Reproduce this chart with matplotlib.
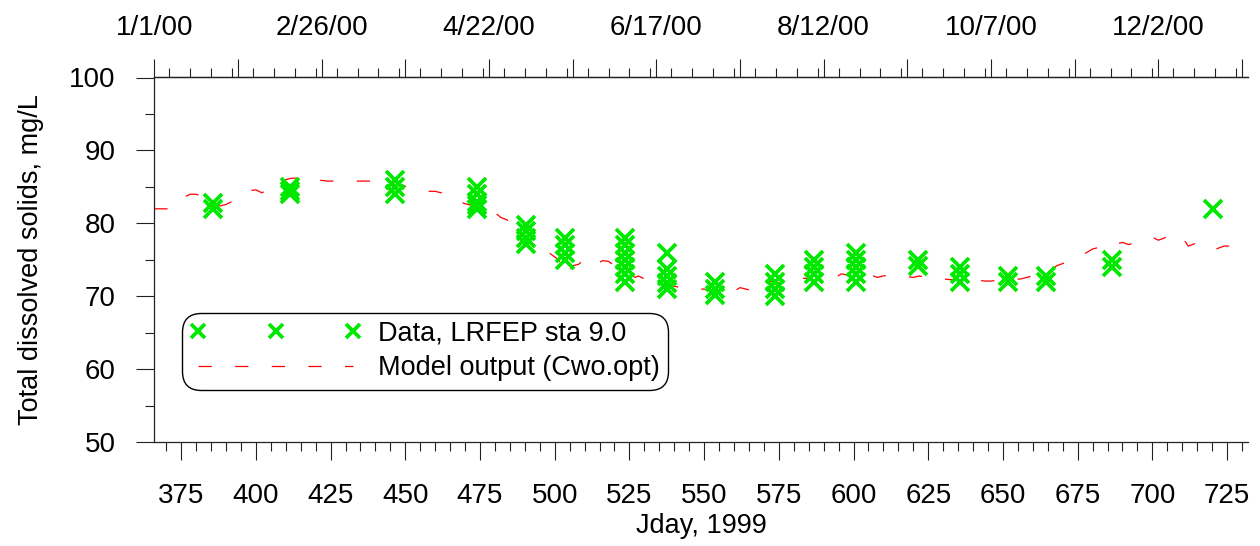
import matplotlib
matplotlib.use("Agg")
import matplotlib.pyplot as plt
from matplotlib.ticker import MultipleLocator, FixedLocator, FixedFormatter

plt.rcParams['font.family'] = ['Liberation Sans', 'DejaVu Sans']

# ---- data ----
obs_day = [385.5, 385.5,
           411.4, 411.4, 411.4,
           446.5, 446.5, 446.5,
           474.0, 474.0, 474.0, 474.0, 474.0,
           490.5, 490.5, 490.5, 490.5,
           503.5, 503.5, 503.5, 503.5,
           523.5, 523.5, 523.5, 523.5, 523.5, 523.5, 523.5,
           537.6, 537.6, 537.6, 537.6, 537.6,
           553.6, 553.6, 553.6,
           573.6, 573.6, 573.6, 573.6,
           586.7, 586.7, 586.7, 586.7,
           600.7, 600.7, 600.7, 600.7, 600.7,
           621.6, 621.6,
           635.7, 635.7, 635.7,
           651.6, 651.6,
           664.5, 664.5,
           686.5, 686.5,
           720.4]
obs_tds = [82.0, 82.8,
           84.0, 84.5, 85.0,
           84.0, 85.0, 86.0,
           85.0, 84.0, 83.0, 82.5, 82.0,
           79.8, 79.0, 78.0, 77.2,
           78.0, 77.0, 76.0, 75.0,
           78.0, 77.0, 76.0, 75.0, 74.0, 73.0, 72.0,
           76.0, 73.8, 72.8, 71.8, 71.0,
           72.0, 71.0, 70.2,
           73.0, 72.0, 71.0, 70.0,
           75.0, 74.0, 73.0, 72.0,
           76.0, 75.0, 74.0, 73.0, 72.0,
           75.0, 74.2,
           74.0, 73.0, 72.0,
           72.8, 72.0,
           72.8, 72.0,
           75.0, 74.0,
           82.0]

model_day = [366, 368, 370, 372, 374, 376, 378, 380, 382, 384, 386, 388, 390, 392,
             394, 396, 398, 400, 402, 404, 406, 408, 410, 412, 414, 416, 418, 420,
             422, 424, 426, 428, 430, 432, 434, 436, 438, 440, 442, 444, 446, 448,
             450, 452, 454, 456, 458, 460, 462, 464, 466, 468, 470, 472, 474, 476,
             478, 480, 482, 484, 486, 487, 488, 490, 492, 494, 496, 498, 500, 501,
             502, 503, 504, 505, 506, 508, 510, 512, 514, 516, 518, 520, 522, 524,
             526, 527, 528, 530, 532, 534, 536, 538, 540, 542, 544, 546, 548, 550,
             552, 554, 556, 558, 560, 562, 564, 566, 568, 570, 572, 574, 576, 578,
             580, 582, 584, 586, 588, 590, 592, 594, 596, 598, 600, 602, 604, 606,
             608, 610, 612, 614, 616, 618, 620, 622, 624, 626, 628, 630, 632, 634,
             636, 638, 640, 642, 644, 646, 648, 650, 652, 654, 656, 658, 660, 662,
             664, 666, 668, 670, 672, 674, 676, 678, 680, 682, 684, 686, 688, 690,
             692, 694, 696, 698, 700, 702, 704, 706, 708, 710, 711, 712, 714, 716,
             718, 720, 722, 724, 726, 728, 730]
model_tds = [82.0, 82.0, 82.0, 82.0, 82.6, 83.6, 84.0, 84.0, 83.7, 83.2, 82.6, 82.4, 82.6, 83.0,
             83.3, 84.0, 84.5, 84.6, 84.2, 84.6, 85.1, 85.6, 86.0, 86.2, 86.2, 86.0, 85.9, 85.9,
             85.9, 85.8, 85.8, 85.8, 85.8, 85.8, 85.8, 85.8, 85.8, 85.8, 85.6, 85.5, 85.4, 85.2,
             85.1, 85.0, 84.9, 84.8, 84.4, 84.4, 84.2, 84.1, 83.6, 83.0, 82.7, 82.5, 82.5, 82.2,
             81.8, 81.5, 80.8, 80.5, 79.6, 78.3, 78.8, 78.0, 77.4, 76.8, 76.5, 76.0, 75.4, 75.1,
             74.5, 73.7, 72.8, 73.5, 74.2, 74.4, 75.1, 74.3, 74.4, 74.9, 74.8, 74.2, 73.5, 73.0,
             72.8, 72.6, 72.8, 72.4, 72.6, 72.1, 71.8, 71.6, 71.4, 71.2, 71.0, 71.1, 71.0, 71.0,
             70.8, 70.6, 70.5, 70.4, 70.7, 71.2, 71.0, 70.8, 71.3, 71.8, 72.1, 71.9, 71.8, 71.7,
             72.6, 72.4, 72.5, 72.3, 72.2, 72.3, 72.1, 72.6, 73.1, 72.9, 72.8, 72.9, 72.7, 72.9,
             72.6, 72.8, 72.9, 73.0, 72.8, 72.7, 72.6, 72.8, 72.6, 72.5, 72.6, 72.4, 72.3, 72.3,
             72.2, 72.3, 72.1, 72.2, 72.1, 72.1, 72.2, 72.3, 72.4, 72.3, 72.4, 72.6, 72.8, 72.9,
             73.1, 73.6, 74.2, 74.5, 74.9, 75.3, 75.6, 76.0, 76.5, 76.7, 77.2, 77.0, 77.2, 77.4,
             77.1, 77.3, 77.4, 77.8, 78.1, 77.7, 78.0, 78.5, 78.3, 78.3, 77.5, 76.9, 77.2, 77.0,
             76.5, 76.2, 76.6, 76.9, 76.9, 76.6, 76.4]

top_tick_days = [366, 394, 422, 450, 478, 506, 534, 562, 590, 618, 646, 674, 702, 730]
top_tick_labels = ['1/1/00', '', '2/26/00', '', '4/22/00', '', '6/17/00', '',
                   '8/12/00', '', '10/7/00', '', '12/2/00', '']

data_label = 'Data, LRFEP sta 9.0'
model_label = 'Model output (Cwo.opt)'
xlabel = 'Jday, 1999'
ylabel = 'Total dissolved solids, mg/L'

# ---- figure ----
W, H = 1260, 546
fig = plt.figure(figsize=(W / 100, H / 100), dpi=100)
L, R, T, B = 154.3, 1248.0, 77.5, 442.3
ax = fig.add_axes([L / W, 1 - B / H, (R - L) / W, (B - T) / H])

green = '#00e800'
axcol = '#222222'
tick_fs = 20
lab_fs = 19.5

ax.plot(model_day, model_tds, color='#ff0000', lw=0.9,
        dashes=(10.6, 18.7), label=model_label, zorder=2)
ax.plot(obs_day, obs_tds, linestyle='none', marker='x', ms=12.5, mew=2.7,
        color=green, label=data_label, zorder=3)

ax.set_xlim(366, 732)
ax.set_ylim(50, 100)

ax.xaxis.set_major_locator(MultipleLocator(25))
ax.xaxis.set_minor_locator(MultipleLocator(5))
ax.yaxis.set_major_locator(MultipleLocator(10))
ax.yaxis.set_minor_locator(MultipleLocator(5))

ax.tick_params(axis='both', which='major', length=13, width=0.8, color=axcol,
               labelsize=tick_fs, direction='out')
ax.tick_params(axis='both', which='minor', length=6.5, width=0.8, color=axcol,
               direction='out')
ax.tick_params(axis='x', which='major', pad=16)
ax.tick_params(axis='y', which='major', pad=15)
ax.tick_params(axis='x', which='both', top=False, bottom=True)
ax.tick_params(axis='y', which='both', right=False, left=True)

for s in ['left', 'bottom', 'top']:
    ax.spines[s].set_color(axcol)
    ax.spines[s].set_linewidth(0.9)
ax.spines['right'].set_visible(False)

ax.set_xlabel(xlabel, fontsize=lab_fs, labelpad=3)
ax.set_ylabel(ylabel, fontsize=lab_fs, labelpad=18)

# top date axis
tx = ax.twiny()
tx.set_xlim(ax.get_xlim())
tx.xaxis.set_major_locator(FixedLocator(top_tick_days))
tx.xaxis.set_major_formatter(FixedFormatter(top_tick_labels))
tx.xaxis.set_minor_locator(MultipleLocator(7))
tx.tick_params(axis='x', which='major', length=13, width=0.8, color=axcol,
               labelsize=tick_fs, pad=13, direction='out')
tx.tick_params(axis='x', which='minor', length=6.5, width=0.8, color=axcol,
               direction='out')
for s in tx.spines.values():
    s.set_visible(False)
tx.spines['top'].set_visible(True)
tx.spines['top'].set_color(axcol)
tx.spines['top'].set_linewidth(0.9)

# legend
h1, l1 = ax.get_legend_handles_labels()
leg = ax.legend([h1[1], h1[0]], [l1[1], l1[0]], loc='upper left',
                bbox_to_anchor=(181.7 / W, 1 - 312.7 / H),
                bbox_transform=fig.transFigure, borderaxespad=0,
                fontsize=lab_fs, numpoints=3, markerscale=0.8,
                handlelength=6.34, handletextpad=0.62, labelspacing=0.32,
                borderpad=0.3, fancybox=True, framealpha=1, edgecolor='black')
leg.get_frame().set_linewidth(1.0)
leg.get_frame().set_boxstyle('round,pad=0,rounding_size=0.7')

fig.savefig('out.png', dpi=100)
